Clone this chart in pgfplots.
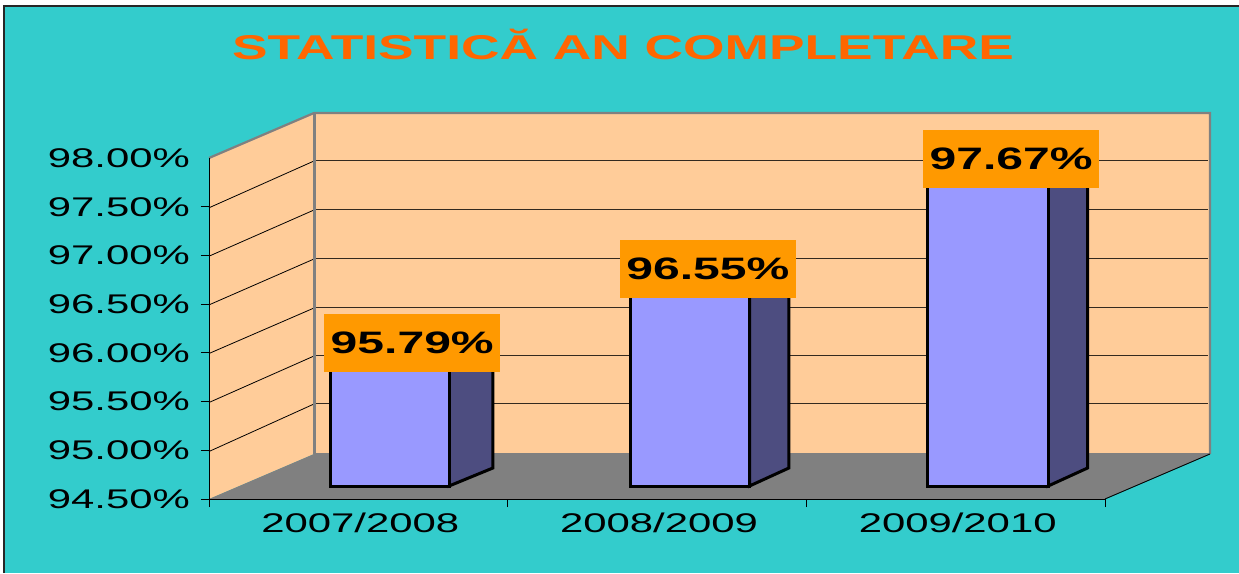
\documentclass[border=0pt]{standalone}
\usepackage{fontspec}
\newfontfamily\wide[FakeStretch=1.55]{Liberation Sans}
\usepackage{pgfplots}
\pgfplotsset{compat=1.18}
\definecolor{teal1}{HTML}{33CCCC}
\definecolor{wall}{HTML}{FFCC99}
\definecolor{floorc}{HTML}{808080}
\definecolor{barf}{HTML}{9999FF}
\definecolor{bars}{HTML}{4D4D80}
\definecolor{lab}{HTML}{FF9900}
\definecolor{ttl}{HTML}{FF6600}
\begin{document}
\begin{tikzpicture}[x=1pt,y=1pt]
\useasboundingbox (0,0) rectangle (1239,573);
% background and walls in picture pixels, y measured from the top
\begin{scope}[yshift=573pt,y=-1pt]
  \fill[white] (0,0) rectangle (1239,573);
  \fill[teal1] (4,6) rectangle (1239,573);
  \draw[black!85,line width=1.6pt] (4,573) -- (4,6) -- (1239,6);
  \fill[wall] (209,158) -- (314,113) -- (1210,113) -- (1210,454) -- (314,454) -- (209,499) -- cycle;
  \fill[floorc] (209,499) -- (314,454) -- (1210,454) -- (1105,499) -- cycle;
  \foreach \a/\b in {207.8/161,256.2/210,304.9/259,353.5/308,402.5/356,451.5/404} {
    \draw[black,line width=0.8pt] (209,\a) -- (314,\b);
    \draw[black!80!wall,line width=1pt] (314,\b) -- (1208,\b);
  }
  \draw[floorc,line width=2.2pt] (209,158) -- (314,113) -- (1210,113) -- (1210,454);
  \draw[floorc,line width=3pt] (314,113) -- (314,454);
  \draw[floorc,line width=1.2pt] (314,454) -- (1210,454);
  \draw[black,line width=0.9pt] (1105,499) -- (1210,454);
  \node[text=ttl,font=\wide\bfseries\fontsize{34.4}{36}\selectfont] at (623,44) {STATISTICĂ AN COMPLETARE};
\end{scope}
\begin{axis}[
  at={(209pt,74pt)}, anchor=south west,
  scale only axis, width=896pt, height=341pt,
  xmin=0, xmax=3, ymin=94.5, ymax=98,
  clip=false,
  axis x line=bottom, axis y line=left,
  axis line style={-,black,line width=1pt},
  xtick={0,1,2,3},
  x tick label as interval,
  xticklabels={2007/2008,2008/2009,2009/2010},
  ytick={94.5,95,95.5,96,96.5,97,97.5},
  yticklabels={94.50\%,95.00\%,95.50\%,96.00\%,96.50\%,97.00\%,97.50\%},
  extra y ticks={98},
  extra y tick labels={98.00\%},
  extra y tick style={tick style={draw=none}},
  tick align=outside,
  tick style={black,line width=0.8pt},
  major tick length=8pt,
  ticklabel style={font=\wide\fontsize{27}{27}\selectfont,text=black},
  yticklabel style={inner sep=0pt,xshift=-11pt},
  xticklabel style={inner sep=0pt,yshift=-6pt,xshift=2pt},
  bar3/.style={draw=black,line width=3pt,line join=miter,xshift=31pt,yshift=13pt},
]
% side, top and front of each bar; the front runs from the floor to the value
\addplot[bar3,fill=bars] coordinates {(0.7,94.5)(0.847,94.685)(0.847,95.975)(0.7,95.79)} -- cycle;
\addplot[bar3,fill=barf,line join=bevel] coordinates {(0.303,95.79)(0.7,95.79)(0.847,95.975)(0.45,95.975)} -- cycle;
\addplot[bar3,fill=barf] coordinates {(0.303,94.5)(0.7,94.5)(0.7,95.79)(0.303,95.79)} -- cycle;
\addplot[bar3,fill=bars] coordinates {(1.706,94.5)(1.838,94.685)(1.838,96.735)(1.706,96.55)} -- cycle;
\addplot[bar3,fill=barf,line join=bevel] coordinates {(1.306,96.55)(1.706,96.55)(1.838,96.735)(1.438,96.735)} -- cycle;
\addplot[bar3,fill=barf] coordinates {(1.306,94.5)(1.706,94.5)(1.706,96.55)(1.306,96.55)} -- cycle;
\addplot[bar3,fill=bars] coordinates {(2.706,94.5)(2.838,94.685)(2.838,97.855)(2.706,97.67)} -- cycle;
\addplot[bar3,fill=barf,line join=bevel] coordinates {(2.303,97.67)(2.706,97.67)(2.838,97.855)(2.435,97.855)} -- cycle;
\addplot[bar3,fill=barf] coordinates {(2.303,94.5)(2.706,94.5)(2.706,97.67)(2.303,97.67)} -- cycle;
\tikzset{vlab/.style={fill=lab,minimum width=175.5pt,minimum height=58pt,inner sep=0pt,text=black,
  font=\wide\bfseries\fontsize{31}{31}\selectfont}}
\node[vlab,xshift=30pt] at (axis cs:0.58,95.79) [yshift=30.5pt] {95.79\%};
\node[vlab,xshift=30pt] at (axis cs:1.57,96.55) [yshift=30.5pt] {96.55\%};
\node[vlab,xshift=30pt] at (axis cs:2.585,97.67) [yshift=31.5pt] {97.67\%};
\end{axis}
\end{tikzpicture}
\end{document}
